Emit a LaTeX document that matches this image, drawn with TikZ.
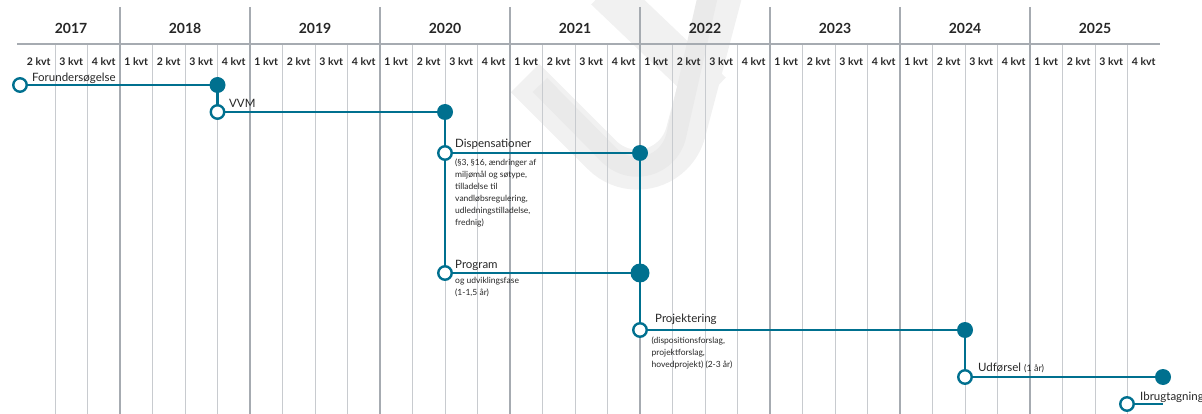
\documentclass[tikz,border=0pt]{standalone}
\usepackage{fontspec}
\setmainfont{Lato}

\definecolor{phaseteal}{HTML}{00708F}
\definecolor{kvtgray}{HTML}{C8CBCF}
\definecolor{yeargray}{HTML}{A6ABB1}
\definecolor{wmgray}{HTML}{F1F1F1}
\definecolor{wmdark}{HTML}{EAEAEA}
\definecolor{txtgray}{HTML}{262626}

\pgfdeclarelayer{grid}
\pgfdeclarelayer{lines}
\pgfsetlayers{grid,lines,main}

\tikzset{
  phase/.style={draw=phaseteal, line width=2.6pt},
  startdot/.style={circle, draw=phaseteal, fill=white, line width=2.4pt, minimum size=13.5pt, inner sep=0pt},
  enddot/.style={circle, fill=phaseteal, minimum size=16pt, inner sep=0pt},
  bigdot/.style={enddot, minimum size=19pt},
  yearline/.style={draw=yeargray, line width=1.1pt},
  kvtline/.style={draw=kvtgray, line width=0.9pt},
  wmband/.style={draw=wmgray, line width=40pt},
  yearlbl/.style={font=\fontsize{14}{16}\selectfont\bfseries, text=txtgray},
  kvtlbl/.style={font=\fontsize{10.5}{12}\selectfont\bfseries, text=txtgray},
  phaselbl/.style={font=\fontsize{11.5}{13}\selectfont, text=txtgray, anchor=base west, inner sep=0pt},
  notelbl/.style={font=\fontsize{8.5}{12}\selectfont, text=txtgray, anchor=north west, align=left, inner sep=0pt},
}

\begin{document}
\begin{tikzpicture}[x=1pt, y=-1pt]
    \useasboundingbox (0,0) rectangle (1202,414);

    % milestones
    \node[startdot] (fu0) at (20,85) {};
    \node[enddot] (fu1) at (217.5,85) {};
    \node[startdot] (vvm0) at (217.5,112) {};
    \node[enddot] (vvm1) at (445,112) {};
    \node[startdot] (dis0) at (445,153) {};
    \node[enddot] (dis1) at (640,153) {};
    \node[startdot] (prg0) at (445,273) {};
    \node[bigdot] (prg1) at (640,273) {};
    \node[startdot] (pro0) at (640,330) {};
    \node[enddot] (pro1) at (965,330) {};
    \node[startdot] (udf0) at (965,377) {};
    \node[enddot] (udf1) at (1163,377) {};
    \node[startdot] (ibr0) at (1127,404) {};
    \coordinate (ibr1) at (1163,404);

    \begin{pgfonlayer}{grid}
        % watermark
        \draw[wmband] (525,78) -- (602,155) arc[start angle=-135, end angle=-15, radius=50pt] -- (722,-5);
        \draw[wmband] (605,-10) -- (712,92);
        \draw[wmdark, line width=20pt] (540,85) -- (609,155) arc[start angle=-135, end angle=-15, radius=40pt] -- (708,-5);

        % quarter and year lines
        \foreach \q in {1,...,34}
            \draw[kvtline] (22.5+32.5*\q,44) -- (22.5+32.5*\q,414);
        \foreach \k in {0,...,7}
            \draw[yearline] (120+130*\k,7) -- (120+130*\k,414);
        \draw[yearline] (17,44) -- (1160,44);
    \end{pgfonlayer}

    % headings
    \node[yearlbl] at (71,28) {2017};
    \foreach \yr [count=\k from 0] in {2018,...,2025}
        \node[yearlbl] at (185+130*\k,28) {\yr};
    \foreach \q in {0,...,34} {
        \pgfmathtruncatemacro\kv{mod(\q+1,4)+1}
        \node[kvtlbl] at (38.75+32.5*\q,62) {\kv\ kvt};
    }

    % phases
    \begin{pgfonlayer}{lines}
        \draw[phase] (fu0.center) -- (fu1.center) -- (vvm0.center) -- (vvm1.center) -- (prg0.center);
        \draw[phase] (dis0.center) -- (dis1.center) -- (pro0.center) -- (pro1.center) -- (udf0.center) -- (udf1.center);
        \draw[phase] (prg0.center) -- (prg1.center);
        \draw[phase] (ibr0.center) -- (ibr1);
    \end{pgfonlayer}

    % labels
    \node[phaselbl] (fuL) at (32,81.5) {Forundersøgelse};
    \node[phaselbl] (vvmL) at (229,108) {VVM};
    \node[phaselbl] (disL) at (455,148) {Dispensationer};
    \node[notelbl] (disN) at (455,159) {(§3, §16, ændringer af\\miljømål og søtype,\\tilladelse til\\vandløbsregulering,\\udledningstilladelse,\\frednig)};
    \node[phaselbl] (prgL) at (455,269) {Program};
    \node[notelbl] (prgN) at (455,277.5) {og udviklingsfase\\(1-1,5 år)};
    \node[phaselbl] (proL) at (655,322.5) {Projektering};
    \node[notelbl] (proN) at (651.5,337) {(dispositionsforslag,\\projektforslag,\\hovedprojekt) (2-3 år)};
    \node[phaselbl] (udfL) at (978,371.5) {Udførsel {\fontsize{9}{10}\selectfont(1 år)}};
    \node[phaselbl] (ibrL) at (1140,400) {Ibrugtagning};
\end{tikzpicture}
\end{document}
